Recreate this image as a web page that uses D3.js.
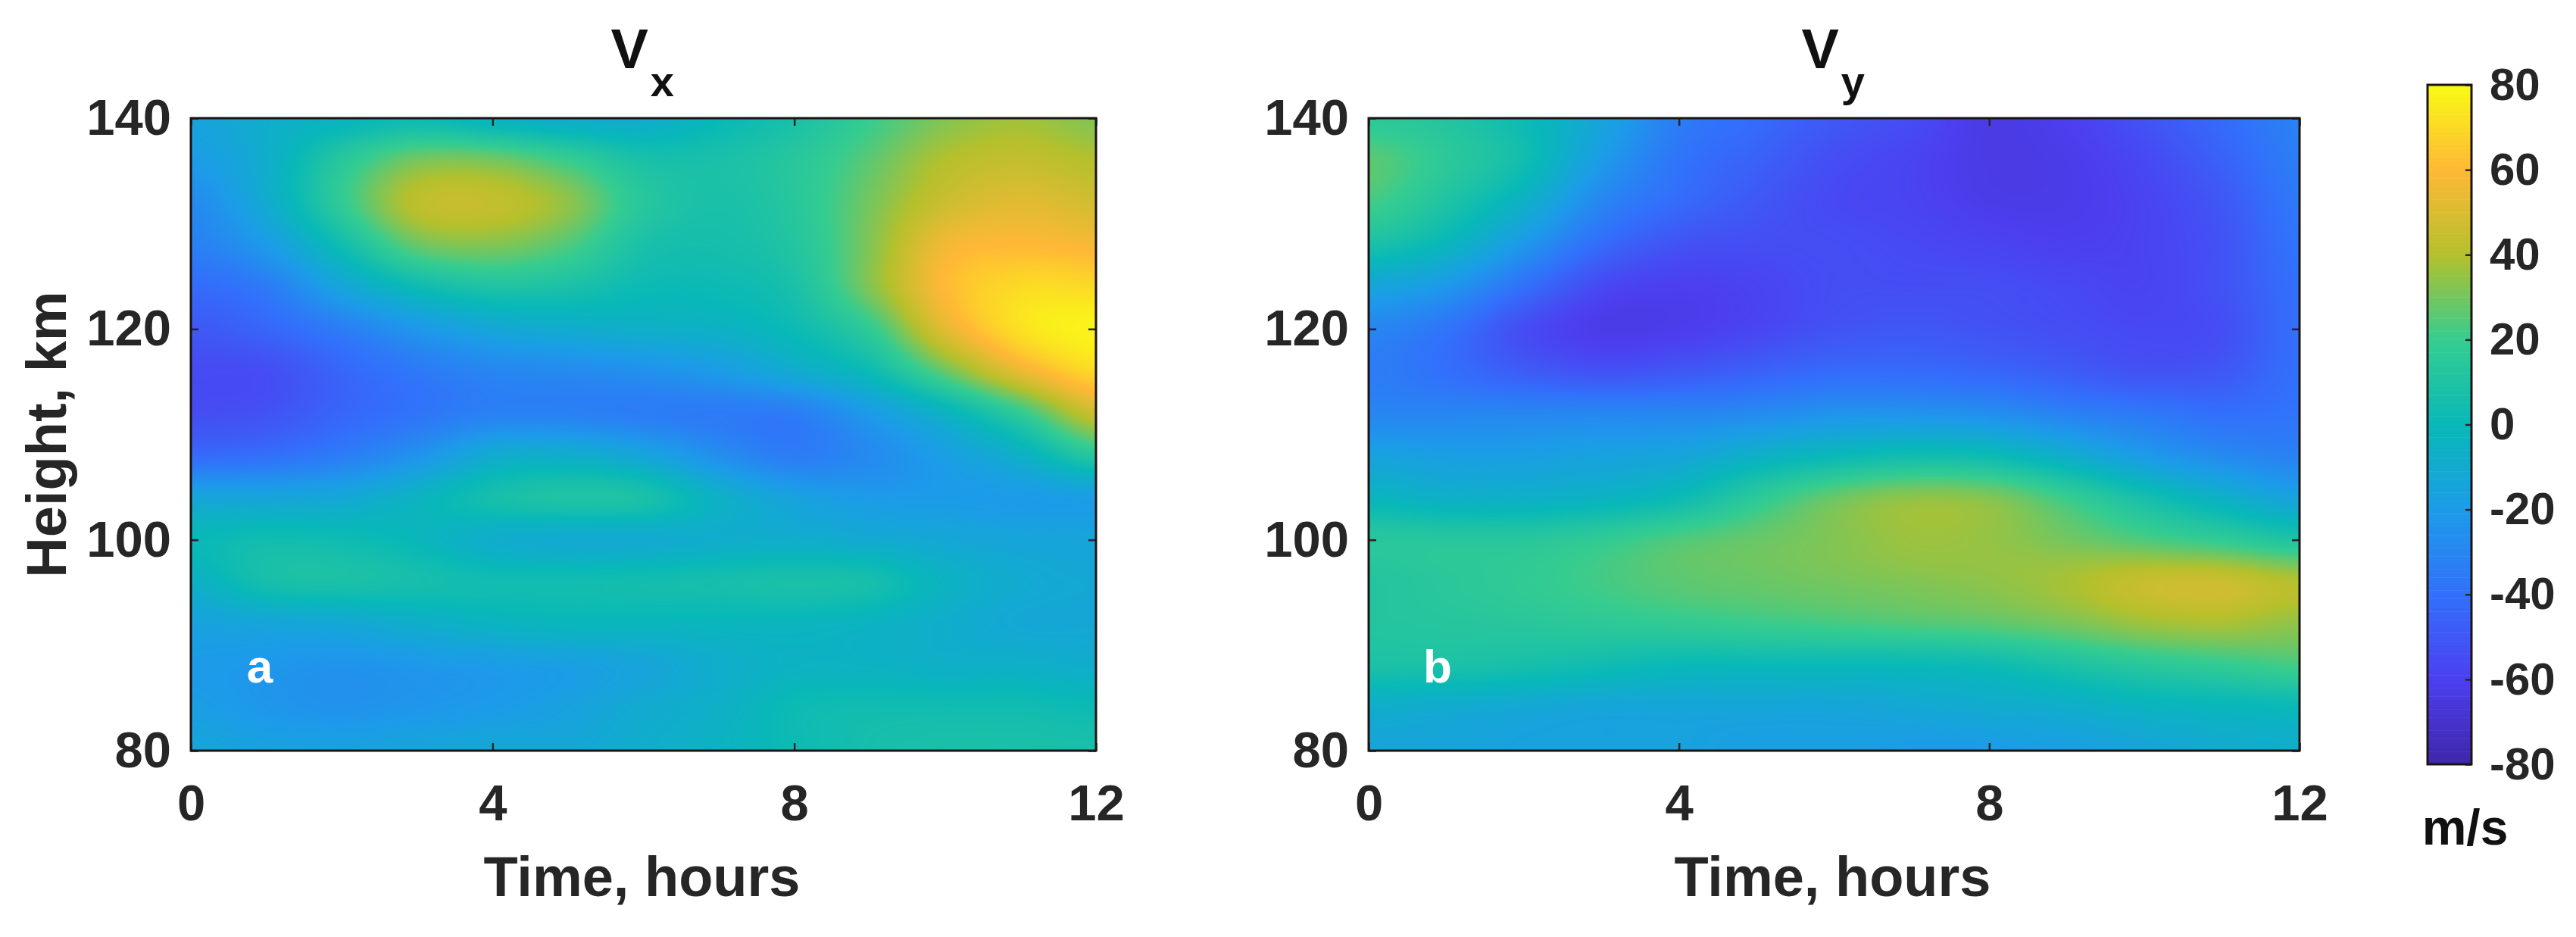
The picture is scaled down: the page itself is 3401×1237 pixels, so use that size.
<!DOCTYPE html>
<html>
<head>
<meta charset="utf-8">
<script src="https://cdn.jsdelivr.net/npm/d3@7"></script>
<style>
  html, body { margin: 0; padding: 0; background: #fff; }
  svg { display: block; }
  text { font-family: "Liberation Sans", Arial, sans-serif; font-weight: bold; }
</style>
</head>
<body>
<div id="chart"></div>
<script>
// grid of the two wind panels
const hours = [0, 1, 2, 3, 4, 5, 6, 7, 8, 9, 10, 11, 12];
const heights = [140, 136, 132, 128, 124, 120, 116, 112, 108, 104, 100, 96, 92, 88, 84, 80];

const vx = [
  [-15, -8, -3, 2, -4, -8, -8, 0, 8, 20, 32, 37, 32],
  [-20, -8, 14, 30, 30, 20, 8, 8, 14, 26, 40, 44, 40],
  [-28, -10, 18, 42, 44, 34, 14, 8, 14, 30, 46, 52, 48],
  [-33, -20, 4, 28, 32, 24, 8, 6, 12, 32, 56, 60, 58],
  [-42, -35, -14, 2, 10, 8, 2, 2, 8, 32, 60, 70, 70],
  [-50, -44, -34, -22, -13, -9, -7, -5, 2, 18, 52, 72, 78],
  [-55, -54, -44, -36, -30, -28, -25, -20, -10, 2, 28, 54, 70],
  [-54, -52, -44, -38, -32, -32, -34, -35, -34, -20, -4, 18, 46],
  [-42, -40, -34, -24, -10, -8, -14, -26, -34, -28, -18, -6, 14],
  [-14, -14, -12, -4, 6, 10, 8, -6, -16, -20, -20, -20, -18],
  [0, 4, 3, -1, -8, -10, -10, -8, -8, -10, -12, -14, -14],
  [-6, 6, 8, 6, 4, 4, 5, 6, 8, 6, -4, -10, -12],
  [-16, -14, -12, -8, -4, -2, -2, -2, -2, -4, -8, -12, -12],
  [-20, -22, -24, -22, -20, -18, -14, -8, -4, -4, -6, -6, -8],
  [-18, -22, -24, -22, -20, -16, -10, -6, 2, 4, 4, 4, 2],
  [-14, -16, -16, -14, -12, -12, -8, -4, 2, 6, 8, 8, 8]
];

const vy = [
  [16, 12, 2, -14, -34, -42, -50, -55, -63, -60, -52, -42, -32],
  [26, 16, 4, -20, -38, -46, -54, -58, -63, -62, -56, -46, -34],
  [22, 10, -6, -30, -42, -50, -56, -58, -62, -62, -58, -50, -36],
  [8, -2, -22, -42, -52, -54, -54, -56, -58, -60, -58, -52, -38],
  [-14, -22, -40, -56, -60, -58, -54, -54, -54, -56, -58, -52, -40],
  [-30, -38, -54, -62, -61, -57, -52, -50, -52, -54, -56, -54, -40],
  [-34, -40, -48, -52, -50, -46, -42, -42, -44, -48, -52, -50, -40],
  [-30, -30, -30, -30, -30, -28, -24, -24, -26, -32, -36, -40, -38],
  [-16, -18, -18, -16, -14, -6, 0, 4, 2, -8, -20, -28, -32],
  [-2, -6, -6, -4, 2, 16, 28, 34, 32, 20, 6, -6, -16],
  [14, 14, 14, 18, 24, 28, 32, 36, 35, 30, 24, 18, 10],
  [12, 15, 18, 22, 26, 28, 30, 32, 34, 38, 45, 46, 40],
  [12, 13, 14, 16, 18, 20, 22, 24, 26, 30, 36, 38, 34],
  [8, 8, 6, 3, 0, 0, 0, 0, 2, 8, 14, 18, 22],
  [-8, -10, -12, -14, -14, -14, -14, -12, -10, -8, -4, -2, 0],
  [-14, -14, -16, -16, -16, -18, -18, -20, -20, -18, -14, -10, -8]
];

const xTicks = [0, 4, 8, 12];
const yTicks = [80, 100, 120, 140];
const colorTicks = [-80, -60, -40, -20, 0, 20, 40, 60, 80];

const colorStops = [-80, -60, -40, -20, 0, 20, 40, 60, 80];
const colorValues = ["#3e26a8", "#4c3ff0", "#3270fb", "#1c9ce8", "#08b8b8", "#35cc90", "#b4c02c", "#ffb836", "#f9fb15"];

const panels = [
  {name: "x", letter: "a", data: vx, left: 252, right: 1447, showY: true},
  {name: "y", letter: "b", data: vy, left: 1807, right: 3036, showY: false}
];

const plotTop = 156, plotBottom = 991;
const inkColor = "#262626";

const color = d3.scaleLinear().domain(colorStops).range(colorValues).clamp(true);

const svg = d3.select("#chart").append("svg")
    .attr("width", 3401)
    .attr("height", 1237);

// cubic through the grid values, the same look as shading interp
function cubic(p0, p1, p2, p3, t) {
  return 0.5 * (2 * p1 + (p2 - p0) * t + (2 * p0 - 5 * p1 + 4 * p2 - p3) * t * t + (3 * p1 - p0 - 3 * p2 + p3) * t * t * t);
}

function sampleGrid(grid, hour, height) {
  let col = hour;
  let row = (heights[0] - height) / 4;
  let c = Math.min(Math.floor(col), hours.length - 2);
  let r = Math.min(Math.floor(row), heights.length - 2);
  let tx = col - c, ty = row - r;
  let rowVals = [];
  for (let j = r - 1; j <= r + 2; j++) {
    let line = grid[Math.max(0, Math.min(heights.length - 1, j))];
    let at = i => line[Math.max(0, Math.min(hours.length - 1, i))];
    rowVals.push(cubic(at(c - 1), at(c), at(c + 1), at(c + 2), tx));
  }
  return cubic(rowVals[0], rowVals[1], rowVals[2], rowVals[3], ty);
}

function drawPanel(p) {
  let x = d3.scaleLinear().domain([0, 12]).range([p.left, p.right]);
  let y = d3.scaleLinear().domain([80, 140]).range([plotBottom, plotTop]);

  // paint the field on a canvas, then put it in the svg as an image
  let w = p.right - p.left, h = plotBottom - plotTop;
  let canvas = document.createElement("canvas");
  canvas.width = w;
  canvas.height = h;
  let ctx = canvas.getContext("2d");
  let img = ctx.createImageData(w, h);
  for (let j = 0; j < h; j++) {
    for (let i = 0; i < w; i++) {
      let v = sampleGrid(p.data, x.invert(p.left + i + 0.5), y.invert(plotTop + j + 0.5));
      let c = d3.rgb(color(v));
      let k = (j * w + i) * 4;
      img.data[k] = c.r;
      img.data[k + 1] = c.g;
      img.data[k + 2] = c.b;
      img.data[k + 3] = 255;
    }
  }
  ctx.putImageData(img, 0, 0);

  let g = svg.append("g").attr("class", "panel-" + p.name);

  g.append("image")
      .attr("x", p.left)
      .attr("y", plotTop)
      .attr("width", w)
      .attr("height", h)
      .attr("href", canvas.toDataURL());

  // inward ticks on all four sides
  let axes = [
    [d3.axisBottom(x).tickValues(xTicks).tickSize(-10).tickPadding(44), plotBottom, null],
    [d3.axisTop(x).tickValues(xTicks).tickSize(-10).tickFormat(""), plotTop, null],
    [d3.axisLeft(y).tickValues(yTicks).tickSize(-10).tickPadding(26), null, p.left],
    [d3.axisRight(y).tickValues(yTicks).tickSize(-10).tickFormat(""), null, p.right]
  ];
  axes.forEach(a => {
    let ag = g.append("g")
        .attr("transform", a[1] !== null ? `translate(0,${a[1]})` : `translate(${a[2]},0)`)
        .call(a[0]);
    ag.select(".domain").remove();
    ag.selectAll("line").attr("stroke", inkColor).attr("stroke-width", 2.5);
    ag.selectAll("text").attr("fill", inkColor).style("font-size", "67px");
  });

  g.append("rect")
      .attr("x", p.left)
      .attr("y", plotTop)
      .attr("width", w)
      .attr("height", h)
      .attr("fill", "none")
      .attr("stroke", "#1c1414")
      .attr("stroke-width", 3);

  let mid = (p.left + p.right) / 2;

  // x label
  g.append("text")
      .attr("x", mid - 2)
      .attr("y", 1183)
      .attr("text-anchor", "middle")
      .attr("fill", inkColor)
      .style("font-size", "74px")
      .text("Time, hours");

  // title with a subscript
  let title = g.append("text")
      .attr("x", mid - 43)
      .attr("y", 90)
      .attr("fill", "#111")
      .style("font-size", "74px")
      .text("V");
  title.append("tspan")
      .attr("dx", 3)
      .attr("dy", 37)
      .style("font-size", "56px")
      .text(p.name);

  // panel letter
  g.append("text")
      .attr("x", p.left + 91)
      .attr("y", 901)
      .attr("text-anchor", "middle")
      .attr("fill", "#fff")
      .style("font-size", "62px")
      .text(p.letter);

  if (p.showY) {
    g.append("text")
        .attr("transform", `translate(87,${(plotTop + plotBottom) / 2}) rotate(-90)`)
        .attr("text-anchor", "middle")
        .attr("fill", inkColor)
        .style("font-size", "74px")
        .text("Height, km");
  }
}

function drawColorbar() {
  let left = 3205, right = 3263, barTop = 112, barBottom = 1009;
  let c = d3.scaleLinear().domain([-80, 80]).range([barBottom, barTop]);
  let levels = d3.range(-80, 80, 1);

  let g = svg.append("g").attr("class", "colorbar");

  g.selectAll("rect.level")
    .data(levels)
    .enter().append("rect")
      .attr("class", "level")
      .attr("x", left)
      .attr("width", right - left)
      .attr("y", d => c(d + 1))
      .attr("height", d => c(d) - c(d + 1) + 0.5)
      .attr("fill", d => color(d + 0.5));

  let ag = g.append("g")
      .attr("transform", `translate(${right},0)`)
      .call(d3.axisRight(c).tickValues(colorTicks).tickSize(-8).tickPadding(24).tickFormat(d => String(d)));
  ag.select(".domain").remove();
  ag.selectAll("line").attr("stroke", inkColor).attr("stroke-width", 2.5);
  ag.selectAll("text").attr("fill", inkColor).style("font-size", "60px");

  g.append("rect")
      .attr("x", left)
      .attr("y", barTop)
      .attr("width", right - left)
      .attr("height", barBottom - barTop)
      .attr("fill", "none")
      .attr("stroke", "#1c1414")
      .attr("stroke-width", 3);

  g.append("text")
      .attr("x", (3198 + 3311) / 2)
      .attr("y", 1115)
      .attr("text-anchor", "middle")
      .attr("fill", "#111")
      .style("font-size", "66px")
      .text("m/s");
}

panels.forEach(drawPanel);
drawColorbar();
</script>
</body>
</html>
